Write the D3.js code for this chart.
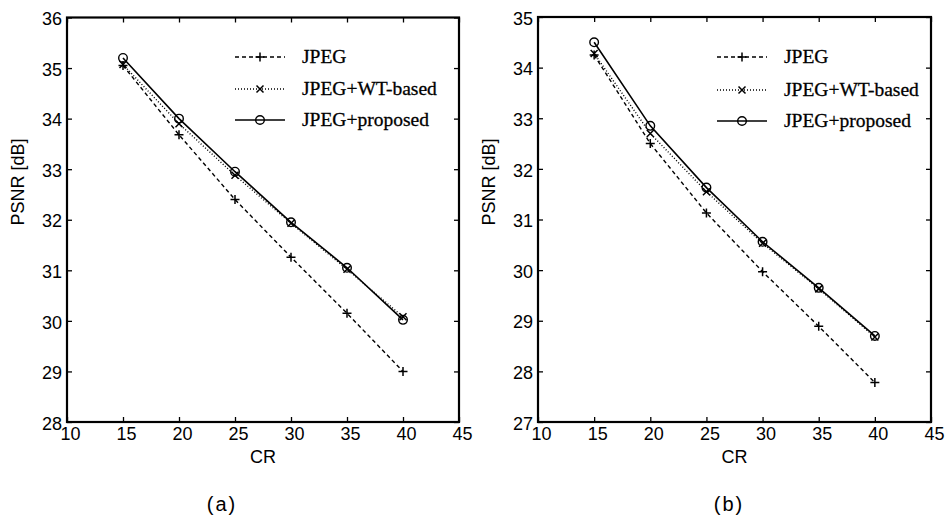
<!DOCTYPE html>
<html>
<head>
<meta charset="utf-8">
<script src="https://cdn.jsdelivr.net/npm/d3@7"></script>
<style>
  html, body { margin: 0; padding: 0; background: #fff; }
  svg { display: block; }
</style>
</head>
<body>
<svg id="chart" width="947" height="518"></svg>
<script>
// ---- data ----
const crValues = [15, 20, 25, 30, 35, 40];
const seriesNames = ["JPEG", "JPEG+WT-based", "JPEG+proposed"];

const jpegA     = [35.05, 33.68, 32.40, 31.26, 30.15, 29.00];
const wtA       = [35.07, 33.90, 32.88, 31.93, 31.02, 30.08];
const proposedA = [35.20, 34.00, 32.95, 31.95, 31.05, 30.02];

const jpegB     = [34.25, 32.50, 31.13, 29.97, 28.89, 27.78];
const wtB       = [34.28, 32.70, 31.55, 30.53, 29.63, 28.68];
const proposedB = [34.50, 32.85, 31.63, 30.56, 29.65, 28.70];

const xTicks  = [10, 15, 20, 25, 30, 35, 40, 45];
const yTicksA = [28, 29, 30, 31, 32, 33, 34, 35, 36];
const yTicksB = [27, 28, 29, 30, 31, 32, 33, 34, 35];

const xLabel = "CR";
const yLabel = "PSNR [dB]";
const panelLabels = ["(a)", "(b)"];

// ---- drawing ----
const svg = d3.select("#chart");

const styles = [
  { dash: "4,3", marker: "plus" },
  { dash: "1,2", marker: "cross" },
  { dash: null,  marker: "circle" }
];

function drawMarker(g, type, cx, cy) {
  if (type === "plus") {
    g.append("path").attr("d", `M${cx-4.5},${cy}H${cx+4.5}M${cx},${cy-4.5}V${cy+4.5}`)
      .attr("stroke", "#000").attr("stroke-width", 1.5).attr("fill", "none");
  } else if (type === "cross") {
    g.append("path").attr("d", `M${cx-3.5},${cy-3.5}L${cx+3.5},${cy+3.5}M${cx-3.5},${cy+3.5}L${cx+3.5},${cy-3.5}`)
      .attr("stroke", "#000").attr("stroke-width", 1.5).attr("fill", "none");
  } else {
    g.append("circle").attr("cx", cx).attr("cy", cy).attr("r", 4.3)
      .attr("stroke", "#000").attr("stroke-width", 1.4).attr("fill", "none");
  }
}

function panel(cfg) {
  const x = d3.scaleLinear().domain([10, 45]).range([cfg.left, cfg.right]);
  const y = d3.scaleLinear().domain(cfg.yDomain).range([cfg.bottom, cfg.top]);
  const g = svg.append("g");

  // axes (inward ticks on all four sides)
  const fontAxis = "Liberation Sans, Arial, sans-serif";
  const bx = g.append("g").attr("transform", `translate(0,${cfg.bottom})`)
    .call(d3.axisBottom(x).tickValues(xTicks).tickSize(-5).tickPadding(0).tickFormat(d3.format("d")));
  bx.selectAll("text").attr("dy", "0").attr("y", 18).attr("dx", 3)
    .attr("font-size", 18).attr("font-family", fontAxis).attr("fill", "#000");
  const tx = g.append("g").attr("transform", `translate(0,${cfg.top})`)
    .call(d3.axisTop(x).tickValues(xTicks).tickSize(-5).tickFormat(""));
  const ly = g.append("g").attr("transform", `translate(${cfg.left},0)`)
    .call(d3.axisLeft(y).tickValues(cfg.yTicks).tickSize(-5).tickPadding(5).tickFormat(d3.format("d")));
  ly.selectAll("text").attr("x", -5).attr("dy", "0.4em")
    .attr("font-size", 18).attr("font-family", fontAxis).attr("fill", "#000");
  const ry = g.append("g").attr("transform", `translate(${cfg.right},0)`)
    .call(d3.axisRight(y).tickValues(cfg.yTicks).tickSize(-5).tickFormat(""));
  [bx, tx, ly, ry].forEach(a => {
    a.select(".domain").remove();
    a.selectAll("line").attr("stroke", "#000").attr("stroke-width", 1.3);
  });

  // frame
  g.append("rect").attr("x", cfg.left).attr("y", cfg.top)
    .attr("width", cfg.right - cfg.left).attr("height", cfg.bottom - cfg.top)
    .attr("fill", "none").attr("stroke", "#000").attr("stroke-width", 2.2);

  // series
  const line = d3.line().x((d, i) => x(crValues[i])).y(d => y(d));
  cfg.series.forEach((vals, si) => {
    const st = styles[si];
    const p = g.append("path").attr("d", line(vals)).attr("fill", "none")
      .attr("stroke", "#000").attr("stroke-width", si === 2 ? 1.6 : 1.4);
    if (st.dash) p.attr("stroke-dasharray", st.dash);
    vals.forEach((v, i) => drawMarker(g, st.marker, x(crValues[i]), y(v)));
  });

  // legend
  const lg = g.append("g");
  seriesNames.forEach((name, si) => {
    const st = styles[si];
    const yy = cfg.legendRows[si];
    const l = lg.append("line").attr("x1", cfg.legX1).attr("x2", cfg.legX1 + 50)
      .attr("y1", yy).attr("y2", yy).attr("stroke", "#000").attr("stroke-width", si === 2 ? 1.6 : 1.4);
    if (st.dash) l.attr("stroke-dasharray", st.dash);
    drawMarker(lg, st.marker, cfg.legX1 + 25, yy);
    lg.append("text").attr("x", cfg.legX1 + 67).attr("y", yy + 6)
      .attr("font-family", "Liberation Serif, Times New Roman, serif")
      .attr("font-size", 19.5).attr("fill", "#000")
      .attr("stroke", "#000").attr("stroke-width", 0.3)
      .text(name);
  });

  // axis labels
  g.append("text").attr("x", (cfg.left + cfg.right) / 2).attr("y", 463)
    .attr("text-anchor", "middle").attr("font-size", 18).attr("font-family", fontAxis)
    .text(xLabel);
  g.append("text").attr("transform", `translate(${cfg.left - 43},182) rotate(-90)`)
    .attr("text-anchor", "middle").attr("font-size", 18).attr("font-family", fontAxis)
    .text(yLabel);
  g.append("text").attr("x", cfg.panelX).attr("y", 511)
    .attr("text-anchor", "middle").attr("font-size", 20)
    .attr("letter-spacing", 2)
    .attr("font-family", fontAxis)
    .text(cfg.panelLabel);
}

panel({
  left: 67, right: 459, top: 17.5, bottom: 422,
  yDomain: [28, 36], yTicks: yTicksA,
  series: [jpegA, wtA, proposedA],
  legX1: 235, legendRows: [57, 89, 120],
  panelX: 222, panelLabel: panelLabels[0]
});
panel({
  left: 538, right: 931, top: 17, bottom: 422,
  yDomain: [27, 35], yTicks: yTicksB,
  series: [jpegB, wtB, proposedB],
  legX1: 717, legendRows: [57, 90, 121],
  panelX: 729, panelLabel: panelLabels[1]
});
</script>
</body>
</html>
